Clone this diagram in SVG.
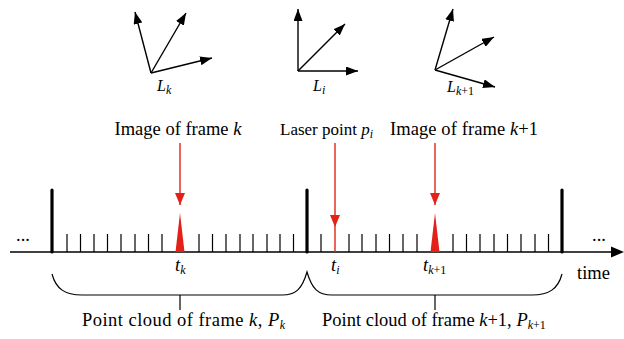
<svg xmlns="http://www.w3.org/2000/svg" width="624" height="339" viewBox="0 0 624 339" font-family="'Liberation Serif', 'Times New Roman', 'DejaVu Serif', serif">
<style>
text{font-family:'Liberation Serif','Times New Roman','DejaVu Serif',serif;fill:#000}
.lbl{font-size:18.5px}
.it{font-style:italic}
.sub{font-size:12px}
.vec{stroke:#000;stroke-width:1.4;fill:none;marker-end:url(#ah)}
.red{stroke:#e32119;stroke-width:1.4;fill:none}
.redarr{stroke:#e32119;stroke-width:1.4;fill:none;marker-end:url(#rh)}
.tick{stroke:#000;stroke-width:1.2}
.bar{stroke:#000;stroke-width:3.2;stroke-linecap:round}
.brace{stroke:#000;stroke-width:1.2;fill:none}
</style>
<defs>
<marker id="ah" markerUnits="userSpaceOnUse" markerWidth="12" markerHeight="9" refX="12" refY="4.5" orient="auto"><path d="M0,0 L12,4.5 L0,9 z" fill="#000"/></marker>
<marker id="rh" markerUnits="userSpaceOnUse" markerWidth="12" markerHeight="10" refX="12" refY="5" orient="auto"><path d="M0,0 L12,5 L0,10 z" fill="#e32119"/></marker>
</defs>

<g id="frame-Lk">
<line class="vec" x1="151" y1="73" x2="135" y2="12"/>
<line class="vec" x1="151" y1="73" x2="186" y2="13"/>
<line class="vec" x1="151" y1="73" x2="212" y2="58"/>
<text x="157" y="91" font-size="16" class="it">L<tspan class="sub" dy="3">k</tspan></text>
</g>
<g id="frame-Li">
<line class="vec" x1="298" y1="71" x2="298" y2="9"/>
<line class="vec" x1="298" y1="71" x2="345" y2="24"/>
<line class="vec" x1="298" y1="71" x2="358" y2="71"/>
<text x="313" y="91" font-size="16" class="it">L<tspan class="sub" dy="3">i</tspan></text>
</g>
<g id="frame-Lk1">
<line class="vec" x1="435" y1="70" x2="453" y2="9"/>
<line class="vec" x1="435" y1="70" x2="494" y2="37"/>
<line class="vec" x1="435" y1="70" x2="495" y2="87"/>
<text x="447" y="92" font-size="16" class="it">L<tspan class="sub" dy="3">k</tspan><tspan class="sub" font-style="normal">+1</tspan></text>
</g>

<g id="label-image-k">
<text class="lbl" x="178" y="135" text-anchor="middle">Image of frame <tspan class="it">k</tspan></text>
</g>
<g id="label-laser">
<text x="280" y="135" font-size="17">Laser point <tspan class="it">p</tspan><tspan class="sub it" dy="3">i</tspan></text>
</g>
<g id="label-image-k1">
<text class="lbl" x="390" y="135" textLength="148">Image of frame <tspan class="it">k</tspan>+1</text>
</g>

<g id="timeline">
<line x1="10" y1="252" x2="614" y2="252" stroke="#000" stroke-width="1.6"/>
<polygon points="611,246.5 624,252 611,257.5" fill="#000"/>
<g class="tick">
<line x1="67" y1="234" x2="67" y2="252"/><line x1="80.5" y1="234" x2="80.5" y2="252"/><line x1="94" y1="234" x2="94" y2="252"/><line x1="107.5" y1="234" x2="107.5" y2="252"/><line x1="121" y1="234" x2="121" y2="252"/><line x1="135" y1="234" x2="135" y2="252"/><line x1="148.5" y1="234" x2="148.5" y2="252"/><line x1="162" y1="234" x2="162" y2="252"/>
<line x1="199" y1="234" x2="199" y2="252"/><line x1="212.5" y1="234" x2="212.5" y2="252"/><line x1="226" y1="234" x2="226" y2="252"/><line x1="240" y1="234" x2="240" y2="252"/><line x1="253" y1="234" x2="253" y2="252"/><line x1="267" y1="234" x2="267" y2="252"/><line x1="280" y1="234" x2="280" y2="252"/><line x1="293.5" y1="234" x2="293.5" y2="252"/>
<line x1="321" y1="234" x2="321" y2="252"/><line x1="349" y1="234" x2="349" y2="252"/><line x1="362" y1="234" x2="362" y2="252"/><line x1="376" y1="234" x2="376" y2="252"/><line x1="389.5" y1="234" x2="389.5" y2="252"/><line x1="403" y1="234" x2="403" y2="252"/><line x1="417" y1="234" x2="417" y2="252"/>
<line x1="453" y1="234" x2="453" y2="252"/><line x1="466.5" y1="234" x2="466.5" y2="252"/><line x1="480" y1="234" x2="480" y2="252"/><line x1="494" y1="234" x2="494" y2="252"/><line x1="507.5" y1="234" x2="507.5" y2="252"/><line x1="521" y1="234" x2="521" y2="252"/><line x1="535" y1="234" x2="535" y2="252"/><line x1="548.5" y1="234" x2="548.5" y2="252"/>
</g>
<line class="bar" x1="52" y1="190" x2="52" y2="252"/>
<line class="bar" x1="307" y1="190" x2="307" y2="252"/>
<line class="bar" x1="562" y1="190" x2="562" y2="252"/>
<polygon points="175.5,252 180,213 184.5,252" fill="#e32119"/>
<polygon points="430.5,252 435,213 439.5,252" fill="#e32119"/>
<line class="red" x1="335" y1="227" x2="335" y2="252"/>
<text class="lbl" x="16" y="241">...</text>
<text class="lbl" x="592" y="241">...</text>
<text class="lbl" x="577" y="279">time</text>
<text class="lbl it" x="175" y="271">t<tspan class="sub" dy="3">k</tspan></text>
<text class="lbl it" x="331" y="271">t<tspan class="sub" dy="3">i</tspan></text>
<text class="lbl it" x="423" y="271">t<tspan class="sub" dy="3">k</tspan><tspan class="sub" font-style="normal">+1</tspan></text>
</g>

<g id="connectors">
<line class="redarr" x1="180" y1="143" x2="180" y2="205"/>
<line class="redarr" x1="335" y1="143" x2="335" y2="227"/>
<line class="redarr" x1="435" y1="143" x2="435" y2="205"/>
<path class="brace" d="M52,274 C56,289 65,295 82,295 L282,295 C296,295 302,289 307,272 C312,289 318,295 332,295 L532,295 C549,295 558,289 562,274"/>
<line class="brace" x1="180" y1="295" x2="180" y2="310"/>
<line class="brace" x1="435" y1="295" x2="435" y2="310"/>
</g>

<g id="label-cloud-k">
<text class="lbl" x="82" y="326" textLength="203">Point cloud of frame <tspan class="it">k</tspan>, <tspan class="it">P</tspan><tspan class="sub it" dy="3">k</tspan></text>
</g>
<g id="label-cloud-k1">
<text class="lbl" x="322" y="326">Point cloud of frame <tspan class="it">k</tspan>+1, <tspan class="it">P</tspan><tspan class="sub it" dy="3">k</tspan><tspan class="sub">+1</tspan></text>
</g>
</svg>
